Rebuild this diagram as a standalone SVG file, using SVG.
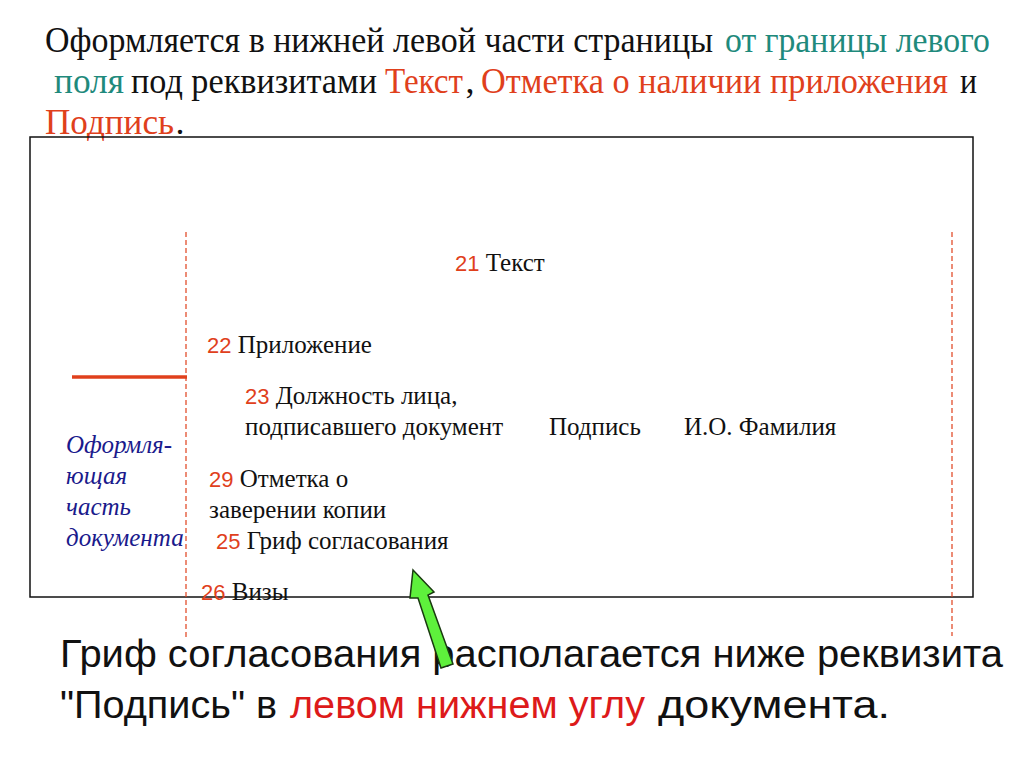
<svg xmlns="http://www.w3.org/2000/svg" width="1024" height="768" viewBox="0 0 1024 768">
<style>
.hd{font-family:"Liberation Serif","DejaVu Serif",serif;font-size:36px;fill:#111}
.tl{fill:#1f8a7c}
.rd{fill:#e0401c}
.bd{font-family:"Liberation Serif","DejaVu Serif",serif;font-size:25px;fill:#111}
.nm{font-family:"Liberation Sans",Arial,sans-serif;font-size:22px;fill:#e0401c}
.it{font-family:"Liberation Serif","DejaVu Serif",serif;font-size:25px;font-style:italic;fill:#1a1a8c}
.bt{font-family:"Liberation Sans",Arial,sans-serif;font-size:38px;fill:#111}
.red{fill:#dd1a1a}
.dash{stroke:#e0401c;stroke-width:1.2;stroke-dasharray:5 3;fill:none}
</style>
<rect width="1024" height="768" fill="#fff"/>
<g id="header">
<text class="hd" x="45" y="52" textLength="668" lengthAdjust="spacingAndGlyphs">Оформляется в нижней левой части страницы</text>
<text class="hd tl" x="725" y="52" textLength="265" lengthAdjust="spacingAndGlyphs">от границы левого</text>
<text class="hd tl" x="54" y="93" textLength="70" lengthAdjust="spacingAndGlyphs">поля</text>
<text class="hd" x="131" y="93" textLength="246" lengthAdjust="spacingAndGlyphs">под реквизитами</text>
<text class="hd rd" x="385" y="93" textLength="78" lengthAdjust="spacingAndGlyphs">Текст</text>
<text class="hd" x="465.5" y="93">,</text>
<text class="hd rd" x="481" y="93" textLength="467" lengthAdjust="spacingAndGlyphs">Отметка о наличии приложения</text>
<text class="hd" x="960" y="93" textLength="17" lengthAdjust="spacingAndGlyphs">и</text>
<text class="hd rd" x="45" y="134" textLength="129" lengthAdjust="spacingAndGlyphs">Подпись</text>
<text class="hd" x="175.5" y="134">.</text>
</g>
<g id="page">
<rect x="30" y="137" width="943" height="460" fill="none" stroke="#111" stroke-width="1.5"/>
<line class="dash" x1="186" y1="232" x2="186" y2="640"/>
<line class="dash" x1="952" y1="232" x2="952" y2="636"/>
<line x1="72" y1="377" x2="187" y2="377" stroke="#e0401c" stroke-width="3.5"/>
</g>
<g id="r21"><text class="bd" x="455" y="271"><tspan class="nm">21</tspan> Текст</text></g>
<g id="r22"><text class="bd" x="207" y="353"><tspan class="nm">22</tspan> Приложение</text></g>
<g id="r23">
<text class="bd" x="245" y="404"><tspan class="nm">23</tspan> Должность лица,</text>
<text class="bd" x="245" y="435">подписавшего документ</text>
<text class="bd" x="549" y="435">Подпись</text>
<text class="bd" x="684" y="435">И.О. Фамилия</text>
</g>
<g id="side">
<text class="it" x="66" y="453">Оформля-</text>
<text class="it" x="66" y="484">ющая</text>
<text class="it" x="66" y="515">часть</text>
<text class="it" x="66" y="546">документа</text>
</g>
<g id="r29">
<text class="bd" x="209" y="487"><tspan class="nm">29</tspan> Отметка о</text>
<text class="bd" x="209" y="518">заверении копии</text>
</g>
<g id="r25"><text class="bd" x="216" y="549"><tspan class="nm">25</tspan> Гриф согласования</text></g>
<g id="r26"><text class="bd" x="201" y="600"><tspan class="nm">26</tspan> Визы</text></g>
<g id="footer">
<text class="bt" x="60" y="667" textLength="943" lengthAdjust="spacingAndGlyphs">Гриф согласования располагается ниже реквизита</text>
<text class="bt" x="60" y="718" textLength="217" lengthAdjust="spacingAndGlyphs">"Подпись" в</text>
<text class="bt red" x="290" y="718" textLength="355" lengthAdjust="spacingAndGlyphs">левом нижнем углу</text>
<text class="bt" x="658" y="718" font-size="42" textLength="232" lengthAdjust="spacingAndGlyphs">документа.</text>
</g>
<g id="connectors">
<polygon points="413,570 434,592 428,595 453,664 441,668 418,598 410,598" fill="#5ef03c" stroke="#1a3a10" stroke-width="1.5" stroke-linejoin="miter"/>
</g>
</svg>
